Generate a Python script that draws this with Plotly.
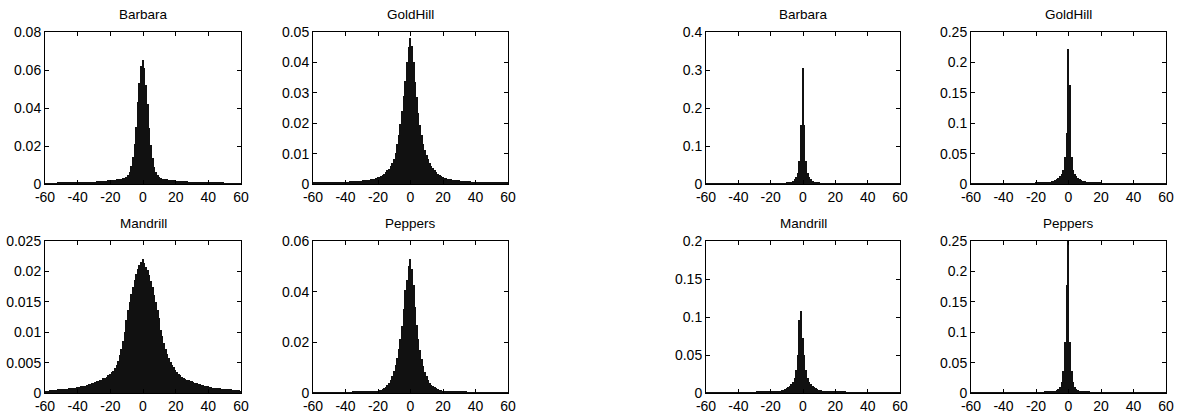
import plotly.graph_objects as go

# ---------------- data ----------------
bins = list(range(-60, 61))  # histogram bin centres
x_ticks = [-60, -40, -20, 0, 20, 40, 60]
x_ticktext = ["-60", "-40", "-20", "0", "20", "40", "60"]

titles = ["Barbara", "GoldHill", "Mandrill", "Peppers",
          "Barbara", "GoldHill", "Mandrill", "Peppers"]

left_barbara = [
    0.0004, 0.0004, 0.0004, 0.0005, 0.0005, 0.0005, 0.0005, 0.0005, 0.0006, 0.0006,
    0.0006, 0.0006, 0.0006, 0.0007, 0.0007, 0.0007, 0.0008, 0.0008, 0.0008, 0.0009,
    0.0009, 0.0009, 0.0010, 0.0010, 0.0010, 0.0011, 0.0011, 0.0012, 0.0012, 0.0012,
    0.0013, 0.0013, 0.0014, 0.0014, 0.0015, 0.0015, 0.0016, 0.0017, 0.0018, 0.0019,
    0.0020, 0.0021, 0.0022, 0.0023, 0.0024, 0.0025, 0.0026, 0.0027, 0.0029, 0.0032,
    0.0038, 0.0048, 0.0065, 0.0095, 0.0140, 0.0210, 0.0300, 0.0430, 0.0530, 0.0620,
    0.0655,
    0.0610, 0.0520, 0.0420, 0.0295, 0.0205, 0.0135, 0.0092, 0.0063, 0.0047, 0.0037,
    0.0031, 0.0028, 0.0026, 0.0025, 0.0024, 0.0023, 0.0022, 0.0021, 0.0020, 0.0019,
    0.0018, 0.0017, 0.0016, 0.0016, 0.0015, 0.0014, 0.0014, 0.0013, 0.0013, 0.0012,
    0.0012, 0.0011, 0.0011, 0.0010, 0.0010, 0.0010, 0.0009, 0.0009, 0.0009, 0.0008,
    0.0008, 0.0008, 0.0007, 0.0007, 0.0007, 0.0006, 0.0006, 0.0006, 0.0006, 0.0005,
    0.0005, 0.0005, 0.0005, 0.0005, 0.0004, 0.0004, 0.0004, 0.0004, 0.0004, 0.0004,
]

left_goldhill = [
    0.0004, 0.0004, 0.0004, 0.0004, 0.0005, 0.0005, 0.0005, 0.0005, 0.0005, 0.0005,
    0.0006, 0.0006, 0.0006, 0.0006, 0.0006, 0.0007, 0.0007, 0.0007, 0.0007, 0.0008,
    0.0008, 0.0008, 0.0008, 0.0009, 0.0009, 0.0009, 0.0010, 0.0010, 0.0010, 0.0011,
    0.0011, 0.0012, 0.0012, 0.0013, 0.0013, 0.0014, 0.0015, 0.0016, 0.0017, 0.0019,
    0.0022, 0.0024, 0.0027, 0.0030, 0.0034, 0.0039, 0.0045, 0.0050, 0.0058, 0.0068,
    0.0082, 0.0102, 0.0130, 0.0160, 0.0198, 0.0240, 0.0290, 0.0340, 0.0400, 0.0450,
    0.0480,
    0.0455, 0.0400, 0.0335, 0.0285, 0.0235, 0.0195, 0.0160, 0.0132, 0.0112, 0.0096,
    0.0082, 0.0070, 0.0060, 0.0052, 0.0045, 0.0039, 0.0034, 0.0030, 0.0026, 0.0023,
    0.0021, 0.0019, 0.0017, 0.0016, 0.0015, 0.0014, 0.0013, 0.0013, 0.0012, 0.0012,
    0.0011, 0.0011, 0.0010, 0.0010, 0.0009, 0.0009, 0.0009, 0.0008, 0.0008, 0.0008,
    0.0007, 0.0007, 0.0007, 0.0007, 0.0006, 0.0006, 0.0006, 0.0006, 0.0006, 0.0005,
    0.0005, 0.0005, 0.0005, 0.0005, 0.0005, 0.0004, 0.0004, 0.0004, 0.0004, 0.0004,
]

left_mandrill = [
    0.0004, 0.0004, 0.0004, 0.0005, 0.0005, 0.0005, 0.0005, 0.0005, 0.0006, 0.0006,
    0.0006, 0.0006, 0.0007, 0.0007, 0.0007, 0.0008, 0.0008, 0.0008, 0.0009, 0.0009,
    0.0010, 0.0010, 0.0011, 0.0011, 0.0012, 0.0012, 0.0013, 0.0014, 0.0015, 0.0016,
    0.0017, 0.0018, 0.0019, 0.0020, 0.0021, 0.0022, 0.0024, 0.0025, 0.0027, 0.0029,
    0.0031, 0.0034, 0.0037, 0.0041, 0.0046, 0.0052, 0.0062, 0.0072, 0.0085, 0.0100,
    0.0120, 0.0136, 0.0150, 0.0163, 0.0175, 0.0186, 0.0196, 0.0204, 0.0210, 0.0216,
    0.0221,
    0.0214, 0.0208, 0.0202, 0.0194, 0.0185, 0.0174, 0.0162, 0.0150, 0.0137, 0.0123,
    0.0104, 0.0094, 0.0083, 0.0073, 0.0064, 0.0057, 0.0051, 0.0046, 0.0042, 0.0038,
    0.0035, 0.0032, 0.0029, 0.0027, 0.0025, 0.0023, 0.0022, 0.0021, 0.0020, 0.0019,
    0.0018, 0.0017, 0.0016, 0.0015, 0.0014, 0.0013, 0.0013, 0.0012, 0.0011, 0.0011,
    0.0010, 0.0010, 0.0009, 0.0009, 0.0008, 0.0008, 0.0008, 0.0007, 0.0007, 0.0007,
    0.0006, 0.0006, 0.0006, 0.0006, 0.0005, 0.0005, 0.0005, 0.0005, 0.0005, 0.0004,
]

left_peppers = [
    0.0002, 0.0002, 0.0002, 0.0002, 0.0002, 0.0002, 0.0002, 0.0002, 0.0002, 0.0002,
    0.0002, 0.0002, 0.0002, 0.0002, 0.0003, 0.0003, 0.0003, 0.0003, 0.0003, 0.0003,
    0.0003, 0.0003, 0.0003, 0.0003, 0.0003, 0.0004, 0.0004, 0.0004, 0.0004, 0.0004,
    0.0004, 0.0004, 0.0005, 0.0005, 0.0005, 0.0005, 0.0006, 0.0006, 0.0007, 0.0008,
    0.0009, 0.0010, 0.0012, 0.0014, 0.0018, 0.0023, 0.0030, 0.0040, 0.0052, 0.0068,
    0.0088, 0.0110, 0.0140, 0.0175, 0.0215, 0.0265, 0.0330, 0.0405, 0.0445, 0.0500,
    0.0528,
    0.0490, 0.0425, 0.0340, 0.0270, 0.0215, 0.0170, 0.0133, 0.0105, 0.0082, 0.0066,
    0.0052, 0.0041, 0.0033, 0.0027, 0.0022, 0.0018, 0.0015, 0.0012, 0.0010, 0.0009,
    0.0008, 0.0007, 0.0007, 0.0006, 0.0006, 0.0005, 0.0005, 0.0005, 0.0004, 0.0004,
    0.0004, 0.0004, 0.0004, 0.0004, 0.0003, 0.0003, 0.0003, 0.0003, 0.0003, 0.0003,
    0.0003, 0.0003, 0.0003, 0.0003, 0.0003, 0.0002, 0.0002, 0.0002, 0.0002, 0.0002,
    0.0002, 0.0002, 0.0002, 0.0002, 0.0002, 0.0002, 0.0002, 0.0002, 0.0002, 0.0002,
]

right_barbara = [
    0.0005, 0.0005, 0.0005, 0.0005, 0.0005, 0.0005, 0.0005, 0.0005, 0.0005, 0.0005,
    0.0005, 0.0006, 0.0006, 0.0006, 0.0006, 0.0006, 0.0006, 0.0006, 0.0006, 0.0007,
    0.0007, 0.0007, 0.0007, 0.0007, 0.0008, 0.0008, 0.0008, 0.0008, 0.0008, 0.0009,
    0.0009, 0.0009, 0.0010, 0.0010, 0.0010, 0.0011, 0.0011, 0.0012, 0.0012, 0.0013,
    0.0013, 0.0014, 0.0015, 0.0016, 0.0017, 0.0018, 0.0019, 0.0021, 0.0023, 0.0026,
    0.0030, 0.0036, 0.0045, 0.0060, 0.0085, 0.0125, 0.0180, 0.0300, 0.0600, 0.1550,
    0.3050,
    0.1550, 0.0600, 0.0300, 0.0180, 0.0125, 0.0085, 0.0060, 0.0045, 0.0036, 0.0030,
    0.0026, 0.0023, 0.0021, 0.0019, 0.0018, 0.0017, 0.0016, 0.0015, 0.0014, 0.0013,
    0.0013, 0.0012, 0.0012, 0.0011, 0.0011, 0.0010, 0.0010, 0.0010, 0.0009, 0.0009,
    0.0009, 0.0008, 0.0008, 0.0008, 0.0008, 0.0008, 0.0007, 0.0007, 0.0007, 0.0007,
    0.0007, 0.0006, 0.0006, 0.0006, 0.0006, 0.0006, 0.0006, 0.0006, 0.0006, 0.0005,
    0.0005, 0.0005, 0.0005, 0.0005, 0.0005, 0.0005, 0.0005, 0.0005, 0.0005, 0.0005,
]

right_goldhill = [
    0.0005, 0.0005, 0.0005, 0.0005, 0.0005, 0.0005, 0.0005, 0.0005, 0.0005, 0.0006,
    0.0006, 0.0006, 0.0006, 0.0006, 0.0006, 0.0006, 0.0007, 0.0007, 0.0007, 0.0007,
    0.0007, 0.0008, 0.0008, 0.0008, 0.0008, 0.0009, 0.0009, 0.0009, 0.0010, 0.0010,
    0.0010, 0.0011, 0.0011, 0.0012, 0.0012, 0.0013, 0.0013, 0.0014, 0.0015, 0.0016,
    0.0017, 0.0018, 0.0019, 0.0020, 0.0022, 0.0024, 0.0026, 0.0029, 0.0032, 0.0036,
    0.0042, 0.0050, 0.0060, 0.0075, 0.0095, 0.0125, 0.0165, 0.0230, 0.0440, 0.0840,
    0.2220,
    0.1630, 0.0440, 0.0230, 0.0165, 0.0125, 0.0095, 0.0075, 0.0060, 0.0050, 0.0042,
    0.0036, 0.0032, 0.0029, 0.0026, 0.0024, 0.0022, 0.0020, 0.0019, 0.0018, 0.0017,
    0.0016, 0.0015, 0.0014, 0.0013, 0.0013, 0.0012, 0.0012, 0.0011, 0.0011, 0.0010,
    0.0010, 0.0010, 0.0009, 0.0009, 0.0009, 0.0008, 0.0008, 0.0008, 0.0008, 0.0007,
    0.0007, 0.0007, 0.0007, 0.0007, 0.0006, 0.0006, 0.0006, 0.0006, 0.0006, 0.0006,
    0.0006, 0.0005, 0.0005, 0.0005, 0.0005, 0.0005, 0.0005, 0.0005, 0.0005, 0.0005,
]

right_mandrill = [
    0.0005, 0.0005, 0.0005, 0.0005, 0.0005, 0.0006, 0.0006, 0.0006, 0.0006, 0.0006,
    0.0006, 0.0007, 0.0007, 0.0007, 0.0007, 0.0007, 0.0008, 0.0008, 0.0008, 0.0008,
    0.0009, 0.0009, 0.0009, 0.0010, 0.0010, 0.0010, 0.0011, 0.0011, 0.0012, 0.0012,
    0.0013, 0.0013, 0.0014, 0.0014, 0.0015, 0.0015, 0.0016, 0.0017, 0.0018, 0.0019,
    0.0020, 0.0021, 0.0022, 0.0023, 0.0024, 0.0026, 0.0030, 0.0036, 0.0042, 0.0050,
    0.0060, 0.0075, 0.0095, 0.0120, 0.0150, 0.0200, 0.0300, 0.0500, 0.0960, 0.1080,
    0.0720,
    0.0500, 0.0300, 0.0200, 0.0150, 0.0120, 0.0095, 0.0075, 0.0060, 0.0050, 0.0042,
    0.0036, 0.0030, 0.0026, 0.0024, 0.0023, 0.0022, 0.0021, 0.0020, 0.0019, 0.0018,
    0.0017, 0.0016, 0.0015, 0.0015, 0.0014, 0.0014, 0.0013, 0.0013, 0.0012, 0.0012,
    0.0011, 0.0011, 0.0010, 0.0010, 0.0010, 0.0009, 0.0009, 0.0009, 0.0008, 0.0008,
    0.0008, 0.0008, 0.0007, 0.0007, 0.0007, 0.0007, 0.0007, 0.0006, 0.0006, 0.0006,
    0.0006, 0.0006, 0.0006, 0.0005, 0.0005, 0.0005, 0.0005, 0.0005, 0.0005, 0.0005,
]

right_peppers = [
    0.0004, 0.0004, 0.0004, 0.0004, 0.0004, 0.0004, 0.0004, 0.0004, 0.0004, 0.0004,
    0.0004, 0.0005, 0.0005, 0.0005, 0.0005, 0.0005, 0.0005, 0.0005, 0.0005, 0.0006,
    0.0006, 0.0006, 0.0006, 0.0006, 0.0006, 0.0007, 0.0007, 0.0007, 0.0007, 0.0008,
    0.0008, 0.0008, 0.0008, 0.0009, 0.0009, 0.0009, 0.0010, 0.0010, 0.0011, 0.0011,
    0.0012, 0.0012, 0.0013, 0.0014, 0.0015, 0.0016, 0.0017, 0.0018, 0.0020, 0.0022,
    0.0024, 0.0028, 0.0035, 0.0045, 0.0065, 0.0100, 0.0180, 0.0360, 0.0840, 0.1780,
    0.2700,
    0.0840, 0.0360, 0.0180, 0.0100, 0.0065, 0.0045, 0.0035, 0.0028, 0.0024, 0.0022,
    0.0020, 0.0018, 0.0017, 0.0016, 0.0015, 0.0014, 0.0013, 0.0012, 0.0012, 0.0011,
    0.0011, 0.0010, 0.0010, 0.0009, 0.0009, 0.0009, 0.0008, 0.0008, 0.0008, 0.0008,
    0.0007, 0.0007, 0.0007, 0.0007, 0.0006, 0.0006, 0.0006, 0.0006, 0.0006, 0.0006,
    0.0005, 0.0005, 0.0005, 0.0005, 0.0005, 0.0005, 0.0005, 0.0005, 0.0005, 0.0004,
    0.0004, 0.0004, 0.0004, 0.0004, 0.0004, 0.0004, 0.0004, 0.0004, 0.0004, 0.0004,
]

series = [left_barbara, left_goldhill, left_mandrill, left_peppers,
          right_barbara, right_goldhill, right_mandrill, right_peppers]

y_maxes = [0.08, 0.05, 0.025, 0.06, 0.4, 0.25, 0.2, 0.25]
y_tickvals = [
    [0, 0.02, 0.04, 0.06, 0.08],
    [0, 0.01, 0.02, 0.03, 0.04, 0.05],
    [0, 0.005, 0.01, 0.015, 0.02, 0.025],
    [0, 0.02, 0.04, 0.06],
    [0, 0.1, 0.2, 0.3, 0.4],
    [0, 0.05, 0.1, 0.15, 0.2, 0.25],
    [0, 0.05, 0.1, 0.15, 0.2],
    [0, 0.05, 0.1, 0.15, 0.2, 0.25],
]
y_ticktext = [
    ["0", "0.02", "0.04", "0.06", "0.08"],
    ["0", "0.01", "0.02", "0.03", "0.04", "0.05"],
    ["0", "0.005", "0.01", "0.015", "0.02", "0.025"],
    ["0", "0.02", "0.04", "0.06"],
    ["0", "0.1", "0.2", "0.3", "0.4"],
    ["0", "0.05", "0.1", "0.15", "0.2", "0.25"],
    ["0", "0.05", "0.1", "0.15", "0.2"],
    ["0", "0.05", "0.1", "0.15", "0.2", "0.25"],
]

# ---------------- layout ----------------
W, H = 1177, 415
col_px = [(45, 241), (313, 508), (706, 900), (971, 1166)]
row_px = [(32, 184), (241, 393)]
# panel -> (column, row)
panel_pos = [(0, 0), (1, 0), (0, 1), (1, 1), (2, 0), (3, 0), (2, 1), (3, 1)]

FONT = "Liberation Sans, Arial, sans-serif"
BAR_COLOR = "#111111"

fig = go.Figure()
layout = dict(
    width=W, height=H, autosize=False,
    margin=dict(l=0, r=0, t=0, b=0, pad=0),
    paper_bgcolor="white", plot_bgcolor="white",
    showlegend=False, bargap=0,
    font=dict(family=FONT, size=14, color="black"),
)
annotations = []

for i, (vals, title) in enumerate(zip(series, titles)):
    c, r = panel_pos[i]
    x0, x1 = col_px[c]
    y0, y1 = row_px[r]
    xa = "x" if i == 0 else f"x{i+1}"
    ya = "y" if i == 0 else f"y{i+1}"
    fig.add_trace(go.Bar(
        x=bins, y=vals, width=1.0,
        marker=dict(color=BAR_COLOR, line=dict(width=0)),
        xaxis=xa, yaxis=ya, hoverinfo="x+y",
    ))
    axis_common = dict(
        showline=True, linecolor="black", linewidth=1, mirror="ticks",
        ticks="inside", ticklen=4, tickwidth=1, tickcolor="black",
        showgrid=False, zeroline=False, automargin=False,
        tickfont=dict(family=FONT, size=14, color="black"),
    )
    layout["xaxis" if i == 0 else f"xaxis{i+1}"] = dict(
        domain=[x0 / W, x1 / W], anchor=ya, range=[-60, 60],
        tickmode="array", tickvals=x_ticks, ticktext=x_ticktext,
        **axis_common,
    )
    layout["yaxis" if i == 0 else f"yaxis{i+1}"] = dict(
        domain=[1 - y1 / H, 1 - y0 / H], anchor=xa, range=[0, y_maxes[i]],
        tickmode="array", tickvals=y_tickvals[i], ticktext=y_ticktext[i],
        **axis_common,
    )
    annotations.append(dict(
        text=title, xref="paper", yref="paper",
        x=(x0 + x1) / 2 / W, y=1 - y0 / H,
        xanchor="center", yanchor="bottom", yshift=8, showarrow=False,
        font=dict(family=FONT, size=13.5, color="black"),
    ))

layout["annotations"] = annotations
fig.update_layout(**layout)
fig.write_html(
    "out.html",
    config={"displayModeBar": False},
    post_script="document.body.style.margin='0';document.body.style.padding='0';",
)
